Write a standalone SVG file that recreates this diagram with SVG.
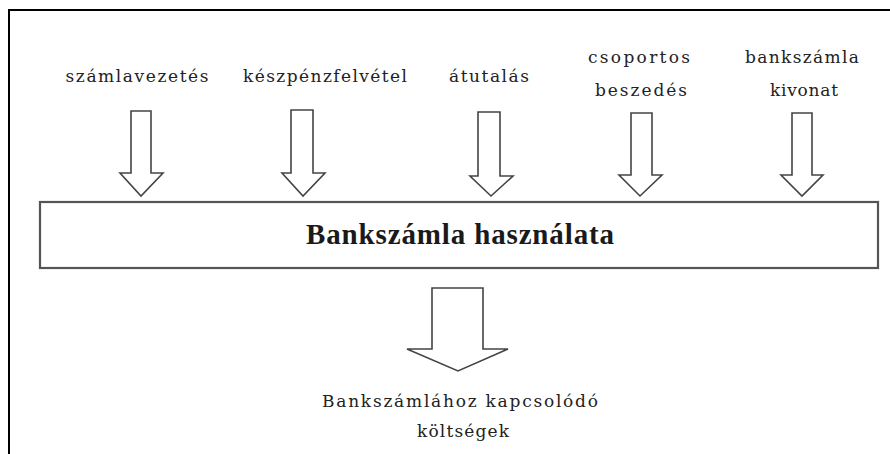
<svg xmlns="http://www.w3.org/2000/svg" width="890" height="454" viewBox="0 0 890 454">
<style>
.lbl{font-family:"DejaVu Serif","Liberation Serif",serif;font-size:17px;fill:#222;text-anchor:middle}
.main{font-family:"Liberation Serif","Times New Roman",serif;font-size:29px;font-weight:bold;fill:#1a1a1a;text-anchor:middle}
.arr{fill:#fff;stroke:#444;stroke-width:1.6;stroke-linejoin:miter}
.box{fill:#fff;stroke:#555;stroke-width:2.2}
</style>
<rect width="890" height="454" fill="#fff"/>
<path d="M9,454 V10 H890" fill="none" stroke="#000" stroke-width="2"/>
<g id="connectors">
<polygon class="arr" points="131,111 151,111 151,173 163,173 141,196 120,173 131,173"/>
<polygon class="arr" points="291,110 313,110 313,173 325,173 303,196 282,173 291,173"/>
<polygon class="arr" points="478,112 500,112 500,176 513,176 491,196 470,176 478,176"/>
<polygon class="arr" points="631,113 652,113 652,175 662,175 640,196 619,175 631,175"/>
<polygon class="arr" points="792,113 812,113 812,175 823,175 802,196 781,175 792,175"/>
<polygon class="arr" points="432,288 483,288 483,349 508,349 458,371 407,349 432,349"/>
</g>
<g id="n-szamlavezetes"><text class="lbl" x="137" y="82" textLength="143" lengthAdjust="spacing">számlavezetés</text></g>
<g id="n-keszpenzfelvetel"><text class="lbl" x="325" y="82" textLength="164" lengthAdjust="spacing">készpénzfelvétel</text></g>
<g id="n-atutalas"><text class="lbl" x="489" y="82" textLength="80" lengthAdjust="spacing">átutalás</text></g>
<g id="n-csoportos"><text class="lbl" x="639" y="63" textLength="102" lengthAdjust="spacing">csoportos</text><text class="lbl" x="641" y="96" textLength="92" lengthAdjust="spacing">beszedés</text></g>
<g id="n-kivonat"><text class="lbl" x="802" y="63" textLength="114" lengthAdjust="spacing">bankszámla</text><text class="lbl" x="804" y="96" textLength="68" lengthAdjust="spacing">kivonat</text></g>
<g id="n-hasznalat"><rect class="box" x="40" y="202" width="838" height="66"/><text class="main" x="460" y="244" textLength="308" lengthAdjust="spacing">Bankszámla használata</text></g>
<g id="n-koltsegek"><text class="lbl" x="460" y="407" textLength="276" lengthAdjust="spacing">Bankszámlához kapcsolódó</text><text class="lbl" x="463" y="437" textLength="92" lengthAdjust="spacing">költségek</text></g>
</svg>
